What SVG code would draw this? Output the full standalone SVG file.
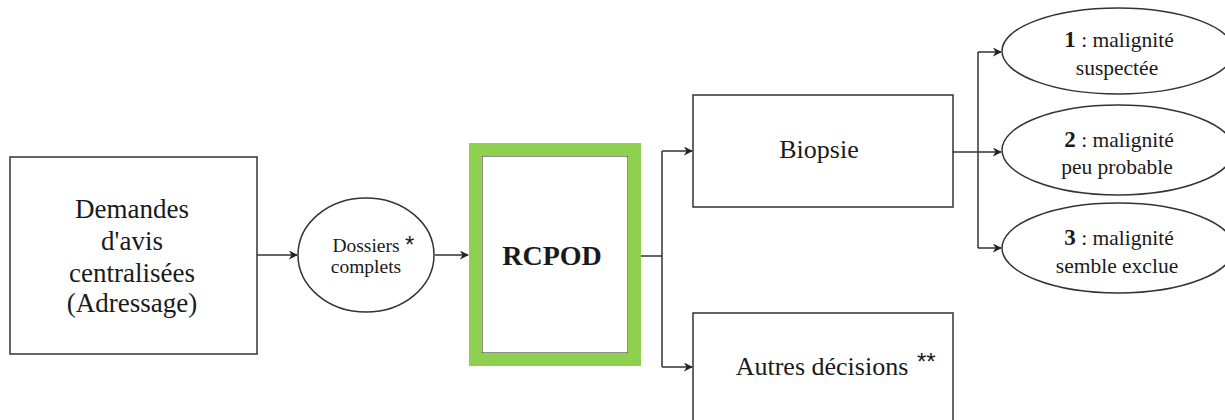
<svg xmlns="http://www.w3.org/2000/svg" width="1225" height="420" viewBox="0 0 1225 420">
  <defs>
    <style>
      .box { fill: #fff; stroke: #333; stroke-width: 1.5; }
      .edge { fill: none; stroke: #333; stroke-width: 1.5; }
      .t { font-family: "Liberation Serif", "Times New Roman", serif; fill: #1a1a1a; text-anchor: middle; }
      .star { font-family: "Liberation Sans", Arial, sans-serif; fill: #1a1a1a; }
    </style>
    <marker id="arrow" viewBox="0 0 10 10" refX="9" refY="5" markerWidth="9" markerHeight="9" orient="auto" markerUnits="userSpaceOnUse">
      <path d="M0,0 L10,5 L0,10 L3,5 Z" fill="#222"/>
    </marker>
  </defs>
  <rect width="1225" height="420" fill="#fff"/>

  <g id="connectors">
    <path class="edge" d="M257,255 H297" marker-end="url(#arrow)"/>
    <path class="edge" d="M435,255 H468" marker-end="url(#arrow)"/>
    <path class="edge" d="M641,256 H662 M662,151 V367"/>
    <path class="edge" d="M662,151 H692" marker-end="url(#arrow)"/>
    <path class="edge" d="M662,367 H692" marker-end="url(#arrow)"/>
    <path class="edge" d="M953,152 H978 M978,52 V248"/>
    <path class="edge" d="M978,52 H1001" marker-end="url(#arrow)"/>
    <path class="edge" d="M978,152 H1001" marker-end="url(#arrow)"/>
    <path class="edge" d="M978,248 H1001" marker-end="url(#arrow)"/>
  </g>

  <g id="demandes">
    <rect class="box" x="10" y="157" width="247" height="197"/>
    <text class="t" font-size="27" x="132" y="218">Demandes</text>
    <text class="t" font-size="27" x="132" y="250">d'avis</text>
    <text class="t" font-size="27" x="132" y="282">centralisées</text>
    <text class="t" font-size="27" x="132" y="312">(Adressage)</text>
  </g>

  <g id="dossiers">
    <ellipse class="box" cx="366" cy="255" rx="68" ry="57"/>
    <text class="t" font-size="19.5" x="366" y="252">Dossiers</text>
    <text class="t" font-size="19.5" x="366" y="273">complets</text>
    <text class="star" font-size="24" x="405" y="253">*</text>
  </g>

  <g id="rcpod">
    <rect x="482" y="156" width="146" height="197" fill="#fff" stroke="#222" stroke-width="1"/>
    <rect x="475.5" y="149.5" width="159" height="210" fill="none" stroke="#8fd14f" stroke-width="13"/>
    <text class="t" font-size="28" font-weight="bold" x="552" y="265">RCPOD</text>
  </g>

  <g id="biopsie">
    <rect class="box" x="693" y="95" width="260" height="112"/>
    <text class="t" font-size="26" x="819" y="158">Biopsie</text>
  </g>

  <g id="autres">
    <rect class="box" x="693" y="313" width="260" height="120"/>
    <text class="t" font-size="26" x="822" y="375">Autres décisions</text>
    <text class="star" font-size="24" x="917" y="370">**</text>
  </g>

  <g id="malignite-1">
    <ellipse class="box" cx="1118" cy="51" rx="116" ry="43"/>
    <text class="t" font-size="21.5" x="1119" y="47"><tspan font-weight="bold" font-size="23">1</tspan> : malignité</text>
    <text class="t" font-size="21.5" x="1117" y="75">suspectée</text>
  </g>

  <g id="malignite-2">
    <ellipse class="box" cx="1118" cy="150" rx="116" ry="45"/>
    <text class="t" font-size="21.5" x="1119" y="147"><tspan font-weight="bold" font-size="23">2</tspan> : malignité</text>
    <text class="t" font-size="21.5" x="1117" y="174">peu probable</text>
  </g>

  <g id="malignite-3">
    <ellipse class="box" cx="1118" cy="248" rx="116" ry="45"/>
    <text class="t" font-size="21.5" x="1119" y="245"><tspan font-weight="bold" font-size="23">3</tspan> : malignité</text>
    <text class="t" font-size="21.5" x="1117" y="273">semble exclue</text>
  </g>
</svg>
